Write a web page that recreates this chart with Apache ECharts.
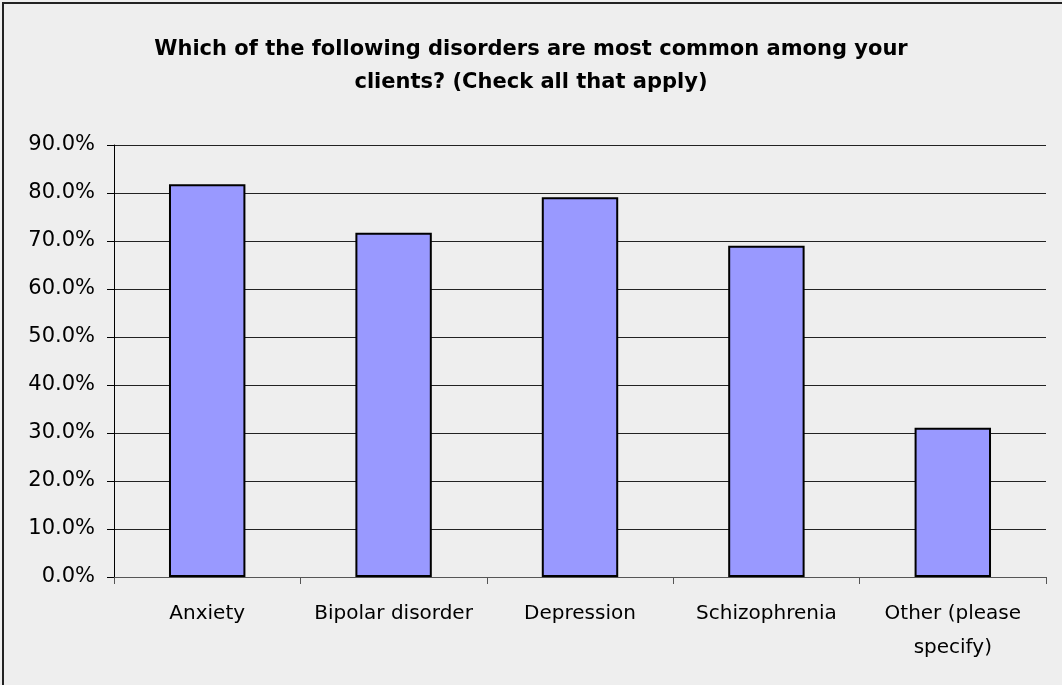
<!DOCTYPE html>
<html style="height: 100%">
  <head>
    <meta charset="utf-8" />
    <title>ECharts</title>
    <script src="https://cdn.jsdelivr.net/npm/echarts@6/dist/echarts.min.js"></script>
  </head>
  <body style="height: 100%; margin: 0; background: #eeeeee">
    <div id="container" style="width: 1062px; height: 685px"></div>

    <script type="text/javascript">
      var categories = ['Anxiety', 'Bipolar disorder', 'Depression', 'Schizophrenia', 'Other (please\nspecify)'];
      var values = [81.8, 71.7, 79.1, 69.0, 31.1];
      var yTicks = [0, 10, 20, 30, 40, 50, 60, 70, 80, 90];

      var myChart = echarts.init(document.getElementById('container'));
      var font = 'DejaVu Sans';

      myChart.setOption({
        backgroundColor: '#eeeeee',
        animation: false,
        title: {
          text: 'Which of the following disorders are most common among your\nclients? (Check all that apply)',
          left: 'center',
          top: 28,
          textStyle: {
            fontFamily: font,
            fontSize: 21,
            fontWeight: 'bold',
            color: '#000',
            lineHeight: 33,
            align: 'center'
          }
        },
        graphic: [{
          type: 'rect',
          shape: { x: 3, y: 3, width: 1100, height: 720 },
          style: { fill: 'none', stroke: '#222', lineWidth: 2 },
          silent: true
        }],
        grid: { left: 114, right: 16, top: 145, bottom: 108 },
        xAxis: {
          type: 'category',
          data: categories,
          axisLine: { lineStyle: { color: '#555', width: 1 } },
          axisTick: { show: true, length: 7, inside: false, lineStyle: { color: '#555' } },
          axisLabel: {
            fontFamily: font, fontSize: 20, color: '#000',
            margin: 20, lineHeight: 34, interval: 0
          }
        },
        yAxis: {
          type: 'value',
          min: yTicks[0],
          max: yTicks[yTicks.length - 1],
          interval: 10,
          axisLine: { show: true, lineStyle: { color: '#000', width: 1 } },
          axisTick: { show: true, length: 7, lineStyle: { color: '#000' } },
          axisLabel: {
            fontFamily: font, fontSize: 21, color: '#000', margin: 19,
            formatter: function (v) { return v.toFixed(1) + '%'; }
          },
          splitLine: { show: true, lineStyle: { color: '#222', width: 1 } }
        },
        series: [{
          type: 'bar',
          data: values,
          barWidth: '41%',
          itemStyle: { color: '#9999ff', borderColor: '#000', borderWidth: 2 }
        }]
      });
    </script>
  </body>
</html>
